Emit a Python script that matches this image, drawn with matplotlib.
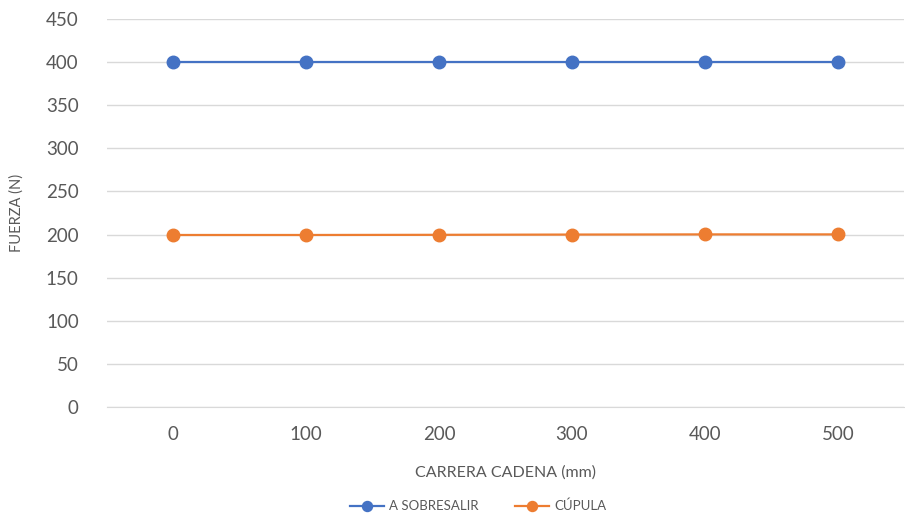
import matplotlib
matplotlib.use("Agg")
import matplotlib.pyplot as plt

carrera = ["0", "100", "200", "300", "400", "500"]
a_sobresalir = [400, 400, 400, 400, 400, 400]
cupula = [199.5, 199.5, 199.7, 200.0, 200.2, 200.2]
y_ticks = [0, 50, 100, 150, 200, 250, 300, 350, 400, 450]

plt.rcParams["font.family"] = ["Lato", "DejaVu Sans"]
text_color = "#595959"

fig = plt.figure(figsize=(9.05, 5.15), dpi=100)
ax = fig.add_axes([0.1177, 0.2097, 0.8817, 0.7534])

x = list(range(len(carrera)))
ax.plot(x, a_sobresalir, color="#4472C4", lw=1.6, marker="o", ms=9,
        label="A SOBRESALIR", zorder=3)
ax.plot(x, cupula, color="#ED7D31", lw=1.6, marker="o", ms=9,
        label="CÚPULA", zorder=3)

ax.set_xlim(-0.5, len(carrera) - 0.5)
ax.set_ylim(0, 450)
ax.set_yticks(y_ticks)
ax.set_xticks(x)
ax.set_xticklabels(carrera)
ax.grid(axis="y", color="#D9D9D9", lw=1)
ax.set_axisbelow(True)
for side in ["top", "right", "left"]:
    ax.spines[side].set_visible(False)
ax.spines["bottom"].set_color("#D9D9D9")
ax.tick_params(length=0, labelsize=13.5, colors=text_color)
ax.tick_params(axis="y", pad=20)
ax.tick_params(axis="x", pad=14)

ax.set_ylabel("FUERZA (N)", fontsize=10.5, color=text_color, labelpad=16)
ax.set_xlabel("CARRERA CADENA (mm)", fontsize=11.5, color=text_color, labelpad=16)

fig.legend(loc="lower center", bbox_to_anchor=(0.528, -0.018), ncol=2,
           frameon=False, fontsize=9.5, labelcolor=text_color,
           handlelength=2.6, handletextpad=0.35, columnspacing=2.8,
           markerscale=0.8)

fig.savefig("out.png", dpi=100)
